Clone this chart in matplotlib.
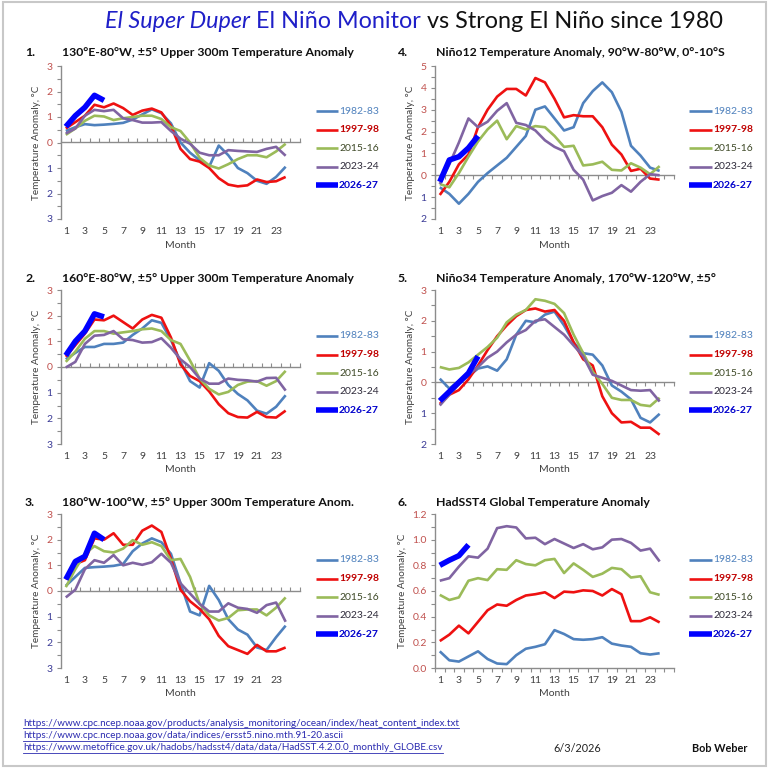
import matplotlib
matplotlib.use('Agg')
import matplotlib.pyplot as plt
from matplotlib.lines import Line2D
from matplotlib.patches import Rectangle
import numpy as np

plt.rcParams['font.family'] = ['Lato', 'DejaVu Sans']

# ---------------- data ----------------
months = list(range(1, 25))
series_names = ['1982-83', '1997-98', '2015-16', '2023-24', '2026-27']

# Panel 1: 130E-80W upper 300m
p1_1982 = [0.45, 0.60, 0.72, 0.68, 0.70, 0.73, 0.77, 0.90, 1.10, 1.30, 1.15, 0.75, 0.00, -0.40, -0.70, -0.95, -0.12, -0.50, -1.00, -1.20, -1.50, -1.62, -1.35, -0.95]
p1_1997 = [0.55, 0.80, 1.05, 1.48, 1.38, 1.53, 1.35, 1.08, 1.25, 1.33, 1.18, 0.65, -0.25, -0.65, -0.75, -1.00, -1.40, -1.65, -1.72, -1.68, -1.45, -1.55, -1.52, -1.35]
p1_2015 = [0.30, 0.55, 0.85, 1.05, 1.02, 0.88, 0.95, 1.00, 1.05, 1.05, 0.92, 0.60, 0.45, 0.00, -0.60, -0.90, -1.02, -0.85, -0.65, -0.50, -0.50, -0.58, -0.35, -0.05]
p1_2023 = [0.35, 0.55, 1.05, 1.28, 1.23, 1.28, 0.95, 0.88, 0.78, 0.78, 0.80, 0.45, 0.15, -0.05, -0.40, -0.50, -0.50, -0.30, -0.33, -0.35, -0.37, -0.25, -0.17, -0.52]
p1_2026 = [0.62, 1.05, 1.38, 1.85, 1.65]

# Panel 2: 160E-80W upper 300m
p2_1982 = [0.30, 0.55, 0.78, 0.78, 0.90, 0.90, 0.95, 1.25, 1.50, 1.82, 1.72, 1.05, 0.20, -0.55, -0.80, 0.15, -0.15, -0.70, -1.05, -1.30, -1.70, -1.82, -1.55, -1.10]
p2_1997 = [0.40, 0.85, 1.30, 1.85, 1.82, 2.00, 1.75, 1.50, 1.85, 2.03, 1.92, 1.15, 0.10, -0.35, -0.55, -0.95, -1.45, -1.80, -1.95, -1.97, -1.75, -1.95, -1.97, -1.70]
p2_2015 = [0.20, 0.60, 1.10, 1.40, 1.40, 1.30, 1.35, 1.40, 1.47, 1.50, 1.40, 1.05, 0.90, 0.25, -0.45, -0.85, -1.07, -0.97, -0.70, -0.57, -0.55, -0.73, -0.55, -0.15]
p2_2023 = [-0.02, 0.20, 0.90, 1.22, 1.25, 1.40, 1.08, 1.05, 0.95, 0.97, 1.12, 0.75, 0.30, 0.00, -0.45, -0.65, -0.65, -0.45, -0.50, -0.52, -0.57, -0.43, -0.42, -0.92]
p2_2026 = [0.45, 1.00, 1.40, 2.07, 1.95]

# Panel 3: 180W-100W upper 300m
p3_1982 = [0.20, 0.55, 0.90, 0.93, 0.95, 0.98, 1.05, 1.55, 1.85, 2.05, 1.90, 1.45, 0.30, -0.80, -0.95, 0.20, -0.35, -1.10, -1.50, -1.70, -2.20, -2.30, -1.80, -1.35]
p3_1997 = [0.45, 1.05, 1.20, 2.05, 2.00, 2.25, 1.80, 1.80, 2.35, 2.55, 2.30, 1.25, 0.05, -0.40, -0.70, -1.10, -1.75, -2.15, -2.30, -2.45, -2.10, -2.35, -2.35, -2.20]
p3_2015 = [0.15, 0.85, 1.45, 1.75, 1.55, 1.50, 1.65, 1.98, 1.80, 1.90, 1.75, 1.20, 1.25, 0.55, -0.50, -0.95, -1.15, -1.05, -0.75, -0.72, -0.72, -0.95, -0.65, -0.25]
p3_2023 = [-0.25, 0.05, 0.85, 1.20, 1.10, 1.40, 1.00, 1.10, 1.02, 1.12, 1.45, 1.10, 0.30, -0.10, -0.50, -0.80, -0.80, -0.48, -0.65, -0.70, -0.85, -0.55, -0.45, -1.20]
p3_2026 = [0.45, 1.15, 1.35, 2.25, 2.00]

# Panel 4: Nino12
p4_1982 = [-0.55, -0.85, -1.30, -0.85, -0.30, 0.10, 0.45, 0.80, 1.30, 1.80, 3.00, 3.15, 2.60, 2.05, 2.20, 3.30, 3.85, 4.25, 3.80, 2.90, 1.35, 0.90, 0.35, 0.20]
p4_1997 = [-0.90, -0.30, 0.50, 0.95, 2.20, 3.00, 3.60, 3.95, 3.95, 3.65, 4.45, 4.25, 3.50, 2.65, 2.75, 2.70, 2.70, 2.20, 1.40, 0.95, 0.20, 0.30, -0.15, -0.20]
p4_2015 = [-0.40, -0.55, 0.10, 0.85, 1.55, 2.10, 2.50, 1.65, 2.25, 2.10, 2.25, 2.20, 1.80, 1.30, 1.35, 0.45, 0.50, 0.62, 0.25, 0.22, 0.55, 0.35, 0.05, 0.42]
p4_2023 = [-0.40, 0.50, 1.50, 2.60, 2.20, 2.45, 2.95, 3.30, 2.40, 2.30, 2.05, 1.60, 1.30, 1.10, 0.25, -0.20, -1.15, -0.95, -0.80, -0.45, -0.75, -0.30, 0.05, 0.00]
p4_2026 = [-0.30, 0.70, 0.85, 1.25, 1.80]

# Panel 5: Nino34
p5_1982 = [0.12, -0.20, 0.05, 0.20, 0.45, 0.52, 0.38, 0.75, 1.55, 2.00, 1.95, 2.20, 2.30, 1.85, 1.30, 0.95, 0.90, 0.55, -0.10, -0.30, -0.55, -1.15, -1.30, -1.02]
p5_1997 = [-0.70, -0.40, -0.25, 0.10, 0.55, 1.05, 1.50, 1.85, 2.15, 2.35, 2.40, 2.30, 2.35, 2.00, 1.30, 0.75, 0.55, -0.45, -1.00, -1.30, -1.28, -1.47, -1.47, -1.70]
p5_2015 = [0.50, 0.42, 0.47, 0.65, 0.90, 1.15, 1.45, 1.95, 2.20, 2.35, 2.70, 2.65, 2.55, 2.25, 1.55, 0.95, 0.35, -0.05, -0.50, -0.57, -0.57, -0.73, -0.77, -0.50]
p5_2023 = [-0.75, -0.40, -0.05, 0.25, 0.50, 0.80, 1.00, 1.30, 1.55, 1.70, 2.00, 2.05, 1.80, 1.55, 1.20, 0.85, 0.25, 0.15, 0.05, -0.10, -0.25, -0.27, -0.25, -0.62]
p5_2026 = [-0.60, -0.30, 0.00, 0.30, 0.85]

# Panel 6: HadSST4 global
p6_1982 = [0.13, 0.06, 0.05, 0.09, 0.13, 0.07, 0.035, 0.03, 0.10, 0.15, 0.165, 0.185, 0.295, 0.265, 0.225, 0.22, 0.225, 0.24, 0.19, 0.175, 0.165, 0.115, 0.105, 0.115]
p6_1997 = [0.21, 0.26, 0.33, 0.27, 0.36, 0.45, 0.495, 0.485, 0.53, 0.565, 0.575, 0.59, 0.545, 0.595, 0.59, 0.605, 0.60, 0.565, 0.615, 0.575, 0.365, 0.365, 0.395, 0.355]
p6_2015 = [0.57, 0.53, 0.55, 0.68, 0.70, 0.685, 0.77, 0.765, 0.84, 0.81, 0.80, 0.84, 0.85, 0.74, 0.815, 0.765, 0.71, 0.735, 0.78, 0.77, 0.705, 0.715, 0.59, 0.57]
p6_2023 = [0.68, 0.70, 0.79, 0.87, 0.86, 0.93, 1.09, 1.105, 1.095, 1.01, 1.015, 0.965, 1.005, 0.97, 0.935, 0.965, 0.925, 0.94, 1.00, 1.005, 0.975, 0.915, 0.93, 0.83]
p6_2026 = [0.80, 0.84, 0.875, 0.96]

panel_titles = [
    ('1.', '130°E-80°W, ±5° Upper 300m Temperature Anomaly'),
    ('2.', '160°E-80°W, ±5° Upper 300m Temperature Anomaly'),
    ('3.', '180°W-100°W, ±5° Upper 300m Temperature Anom.'),
    ('4.', 'Niño12 Temperature Anomaly, 90°W-80°W, 0°-10°S'),
    ('5.', 'Niño34 Temperature Anomaly, 170°W-120°W, ±5°'),
    ('6.', 'HadSST4 Global Temperature Anomaly'),
]
panel_data = [
    [p1_1982, p1_1997, p1_2015, p1_2023, p1_2026],
    [p2_1982, p2_1997, p2_2015, p2_2023, p2_2026],
    [p3_1982, p3_1997, p3_2015, p3_2023, p3_2026],
    [p4_1982, p4_1997, p4_2015, p4_2023, p4_2026],
    [p5_1982, p5_1997, p5_2015, p5_2023, p5_2026],
    [p6_1982, p6_1997, p6_2015, p6_2023, p6_2026],
]
panel_ylims = [(-3, 3), (-3, 3), (-3, 3), (-2, 5), (-2, 3), (0.0, 1.2)]
panel_ymajor = [1, 1, 1, 1, 1, 0.2]
panel_yminor = [0.5, 0.5, 0.5, 0.5, 0.5, 0.1]

urls = [
    'https://www.cpc.ncep.noaa.gov/products/analysis_monitoring/ocean/index/heat_content_index.txt',
    'https://www.cpc.ncep.noaa.gov/data/indices/ersst5.nino.mth.91-20.ascii',
    'https://www.metoffice.gov.uk/hadobs/hadsst4/data/data/HadSST.4.2.0.0_monthly_GLOBE.csv',
]
date_text = '6/3/2026'
author_text = 'Bob Weber'

# ---------------- style ----------------
line_colors = ['#4f81bd', '#ee1111', '#9bbb59', '#8064a2', '#0000ff']
line_widths = [1.9, 1.9, 1.9, 1.9, 4.0]
legend_text_colors = ['#4f81bd', '#c00000', '#3f4a28', '#2e2a3a', '#0000cc']
axis_gray = '#8c8c8c'
text_gray = '#404040'
pos_col = '#c0504d'
neg_col = '#3a3a96'

W = H = 768
fig = plt.figure(figsize=(W / 100, H / 100), dpi=100)
fig.patch.set_facecolor('white')

def rect(x0, y0, x1, y1):
    return [x0 / W, 1 - y1 / H, (x1 - x0) / W, (y1 - y0) / H]

def fx(x):
    return x / W

def fy(y):
    return 1 - y / H

cols = [(61, 300), (435, 674)]
rows = [(66, 219), (290, 444), (514, 668)]
title_ys = [53, 278, 502]
legend_y0 = [111, 336, 560]
legend_dy = 18.6
legend_line_x = [(316, 338), (689, 712)]

for i in range(6):
    c = i // 3
    r = i % 3
    x0, x1 = cols[c]
    y0, y1 = rows[r]
    ax = fig.add_axes(rect(x0, y0, x1, y1))
    lo, hi = panel_ylims[i]
    ax.set_xlim(0.5, 25.5)
    ax.set_ylim(lo, hi)
    for k, vals in enumerate(panel_data[i]):
        ax.plot(months[:len(vals)], vals, color=line_colors[k], lw=line_widths[k],
                solid_joinstyle='round', solid_capstyle='butt', zorder=3 + (k == 4))
    for s in ['top', 'right', 'bottom']:
        ax.spines[s].set_visible(False)
    ax.spines['left'].set_color(axis_gray)
    ax.spines['left'].set_linewidth(1.0)
    # y ticks
    maj = panel_ymajor[i]
    yt = np.round(np.arange(lo, hi + maj / 2, maj), 3)
    ax.set_yticks(yt)
    if i < 5:
        labs = [str(abs(int(round(v)))) for v in yt]
    else:
        labs = [f'{v:.1f}' for v in yt]
    ax.set_yticklabels(labs)
    for t, v in zip(ax.get_yticklabels(), yt):
        t.set_color(neg_col if v < 0 else pos_col)
    ax.set_yticks(np.arange(lo, hi + 1e-9, panel_yminor[i]), minor=True)
    ax.tick_params(axis='y', which='both', direction='out', length=3, width=0.8,
                   color=axis_gray, labelsize=7.5, pad=3)
    # x ticks labels at bottom
    ax.set_xticks(list(range(1, 24, 2)))
    ax.tick_params(axis='x', length=0, labelsize=7.5, labelcolor=text_gray, pad=6)
    ax.set_xlabel('Month', fontsize=7.5, color=text_gray, labelpad=3)
    ax.set_ylabel('Temperature Anomaly, °C', fontsize=7.2, color=text_gray, labelpad=4)
    # x axis line at zero
    frac = (0 - lo) / (hi - lo)
    sec = ax.secondary_xaxis(frac)
    sec.set_xticks(np.arange(0.5, 25.6, 1.0))
    sec.tick_params(axis='x', direction='out', length=3, width=0.8, color=axis_gray,
                    labelbottom=False, labeltop=False)
    for s in sec.spines.values():
        s.set_color(axis_gray)
        s.set_linewidth(1.0)
    # panel title
    num, ttl = panel_titles[i]
    tx = 25 if c == 0 else 398
    fig.text(fx(tx), fy(title_ys[r]), num, fontsize=8.8, fontweight='bold', color='#111111', va='center')
    fig.text(fx(x0 + 1), fy(title_ys[r]), ttl, fontsize=8.8, fontweight='bold', color='#111111', va='center')
    # legend
    lx0, lx1 = legend_line_x[c]
    for k, name in enumerate(series_names):
        yy = legend_y0[r] + k * legend_dy
        fig.add_artist(Line2D([fx(lx0), fx(lx1)], [fy(yy), fy(yy)], color=line_colors[k],
                              lw=line_widths[k], solid_capstyle='butt'))
        fig.text(fx(lx1 + 1), fy(yy), name, fontsize=7.5, fontweight='bold' if k in (1, 4) else 'normal',
                 color=legend_text_colors[k], va='center', ha='left')

# ---------------- main title ----------------
fig.canvas.draw()
renderer = fig.canvas.get_renderer()
pieces = [('El Super Duper', 'italic', '#1f1fc8'),
          (' El Niño Monitor', 'normal', '#1f1fc8'),
          (' vs Strong El Niño since 1980', 'normal', '#111111')]
texts = []
for s, style, col in pieces:
    t = fig.text(0, fy(21), s, fontsize=16.8, fontstyle=style, color=col, va='center', ha='left')
    texts.append(t)
widths = [t.get_window_extent(renderer).width for t in texts]
total = sum(widths)
start = 414 - total / 2
x = start
for t, w in zip(texts, widths):
    t.set_x(fx(x))
    x += w

# ---------------- footer ----------------
url_ys = [723, 736, 748]
for u, yy in zip(urls, url_ys):
    t = fig.text(fx(23), fy(yy), u, fontsize=7.1, color='#2b2bb0', va='center', ha='left')
    fig.canvas.draw()
    bb = t.get_window_extent(renderer)
    fig.add_artist(Line2D([bb.x0 / W, bb.x1 / W], [fy(yy + 4.5), fy(yy + 4.5)], color='#2b2bb0', lw=0.6))
fig.text(fx(577), fy(748), date_text, fontsize=7.8, color='#222222', va='center', ha='center')
fig.text(fx(720), fy(749), author_text, fontsize=7.8, fontweight='bold', color='#111111', va='center', ha='center')

# border
fig.add_artist(Rectangle((3 / W, 1 - 766 / H), 763 / W, 764 / H, transform=fig.transFigure,
                         fill=False, edgecolor='#c8c8c8', lw=1.5))

fig.savefig('out.png', dpi=100, facecolor='white')
